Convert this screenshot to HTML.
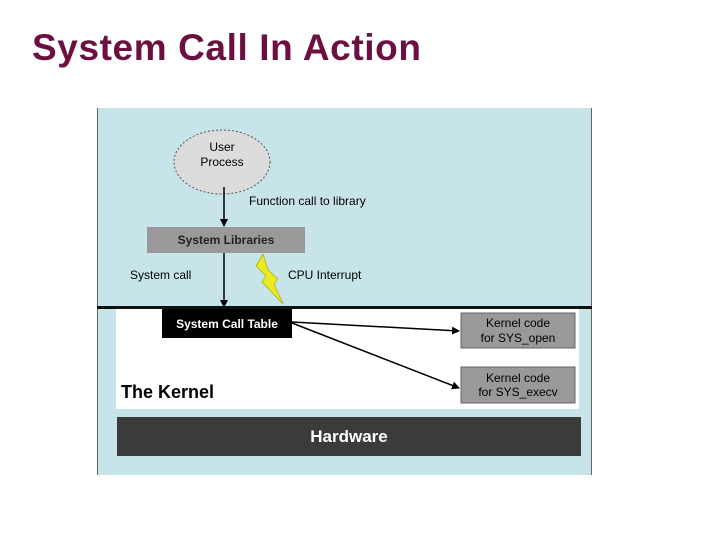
<!DOCTYPE html>
<html><head><style>
body{margin:0;width:720px;height:540px;background:#fff;position:relative;overflow:hidden;font-family:"Liberation Sans",sans-serif}
.t{position:absolute;left:32px;top:27px;font-size:37px;font-weight:bold;color:#6b1040;letter-spacing:0.6px}
</style></head><body>
<div class="t">System Call In Action</div>
<svg width="720" height="540" style="position:absolute;left:0;top:0" font-family="Liberation Sans, sans-serif">
<defs><marker id="a" markerWidth="8" markerHeight="8" refX="7" refY="4" orient="auto" markerUnits="userSpaceOnUse"><path d="M0,0L8,4L0,8z" fill="#000"/></marker></defs>
<rect x="97" y="108" width="495" height="367" fill="#c7e4e8"/>
<line x1="97.5" y1="108" x2="97.5" y2="475" stroke="#666" stroke-width="1"/>
<line x1="591.5" y1="108" x2="591.5" y2="475" stroke="#666" stroke-width="1"/>
<rect x="116" y="308" width="463" height="101" fill="#fff"/>
<rect x="97" y="306" width="495" height="3" fill="#111"/>
<rect x="117" y="417" width="464" height="39" fill="#3b3b3b"/>
<text x="349" y="442" font-size="17" font-weight="bold" fill="#fff" text-anchor="middle">Hardware</text>
<ellipse cx="222" cy="162" rx="48" ry="32" fill="#dcdcdc" stroke="#555" stroke-dasharray="2,2"/>
<text x="222" y="151" font-size="12" text-anchor="middle">User</text>
<text x="222" y="166" font-size="12" text-anchor="middle">Process</text>
<line x1="224" y1="187" x2="224" y2="226" stroke="#000" stroke-width="1.5" marker-end="url(#a)"/>
<text x="249" y="205" font-size="12">Function call to library</text>
<rect x="147" y="227" width="158" height="26" fill="#999"/>
<text x="226" y="244" font-size="12" font-weight="bold" text-anchor="middle" fill="#222">System Libraries</text>
<line x1="224" y1="253" x2="224" y2="307" stroke="#000" stroke-width="1.5" marker-end="url(#a)"/>
<text x="130" y="279" font-size="12">System call</text>
<text x="288" y="279" font-size="12">CPU Interrupt</text>
<path d="M263,254 L256,266 L266,276 L262,282 L283,304 L274,284 L278,279 L268,270 Z" fill="#eaea20" stroke="#a0a000" stroke-width="0.6"/>
<rect x="162" y="309" width="130" height="29" fill="#000"/>
<text x="227" y="328" font-size="12" font-weight="bold" fill="#fff" text-anchor="middle">System Call Table</text>
<rect x="461" y="313" width="114" height="35" fill="#999" stroke="#666"/>
<text x="518" y="327" font-size="12" text-anchor="middle">Kernel code</text>
<text x="518" y="342" font-size="12" text-anchor="middle">for SYS_open</text>
<rect x="461" y="367" width="114" height="36" fill="#999" stroke="#666"/>
<text x="518" y="382" font-size="12" text-anchor="middle">Kernel code</text>
<text x="518" y="396" font-size="12" text-anchor="middle">for SYS_execv</text>
<line x1="292" y1="322" x2="459" y2="331" stroke="#000" stroke-width="1.5" marker-end="url(#a)"/>
<line x1="292" y1="323" x2="459" y2="388" stroke="#000" stroke-width="1.5" marker-end="url(#a)"/>
<text x="121" y="398" font-size="18" font-weight="bold">The Kernel</text>
</svg>
</body></html>
